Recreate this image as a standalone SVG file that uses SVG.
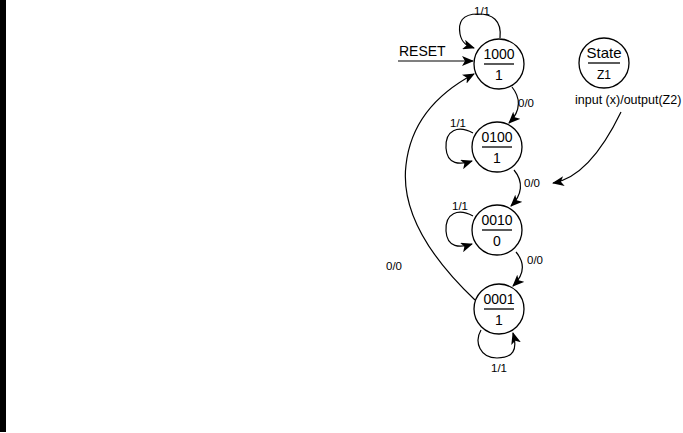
<svg xmlns="http://www.w3.org/2000/svg" width="683" height="433" viewBox="0 0 683 433">
<defs>
<marker id="ah" viewBox="0 0 12 10" refX="11" refY="5" markerWidth="12" markerHeight="10" markerUnits="userSpaceOnUse" orient="auto">
<path d="M0,0 L12,5 L0,10 L3,5 z" fill="#000"/>
</marker>
<style>
.st{fill:#fff;stroke:#000;stroke-width:1.3}
.bar{stroke:#000;stroke-width:1.3}
.nt{font-family:"Liberation Sans",Arial,sans-serif;font-size:14px;text-anchor:middle;fill:#000}
.lb{font-family:"Liberation Sans",Arial,sans-serif;font-size:11.5px;fill:#000}
.ed{fill:none;stroke:#000;stroke-width:1.2;marker-end:url(#ah)}
</style>
</defs>
<rect width="683" height="433" fill="#fff"/>
<rect x="0" y="0" width="6" height="432" fill="#000"/>
<g id="edges">
<path class="ed" d="M398,61 L473,61"/>
<path class="ed" d="M500,38 C502,20 492,14 478,14 C462,14 458,22 460,34 C462,44 468,46 474,48"/>
<path class="ed" d="M512,87 C520,97 522,110 509,123"/>
<path class="ed" d="M473,133 C458,125 445,130 446,148 C447,165 460,165 472,161"/>
<path class="ed" d="M514,170 C524,182 522,195 511,206"/>
<path class="ed" d="M473,216 C458,208 445,213 446,231 C447,248 460,248 472,244"/>
<path class="ed" d="M516,252 C526,264 524,275 513,286"/>
<path class="ed" d="M481,330 C474,342 480,358 497,358 C513,358 518,350 513,333"/>
<path class="ed" d="M475,300 C435,262 400,215 406,165 C411,120 440,92 474,74"/>
<path class="ed" d="M621,112 C605,145 583,178 553,183"/>
</g>
<g class="lb">
<text x="474" y="15">1/1</text>
<text x="518" y="107">0/0</text>
<text x="450" y="127">1/1</text>
<text x="524" y="187">0/0</text>
<text x="452" y="210">1/1</text>
<text x="527" y="264">0/0</text>
<text x="386" y="270">0/0</text>
<text x="491" y="372">1/1</text>
<text x="575" y="104" style="font-size:12.5px">input (x)/output(Z2)</text>
</g>
<g id="reset">
<text x="399" y="56" style="font-family:'Liberation Sans',Arial,sans-serif;font-size:14px">RESET</text>
</g>
<g id="n1000">
<circle class="st" cx="499" cy="64" r="25"/>
<line class="bar" x1="484" y1="64" x2="514" y2="64"/>
<text class="nt" x="499" y="59">1000</text>
<text class="nt" x="499" y="80">1</text>
</g>
<g id="n0100">
<circle class="st" cx="497" cy="147" r="25"/>
<line class="bar" x1="482" y1="147" x2="512" y2="147"/>
<text class="nt" x="497" y="142">0100</text>
<text class="nt" x="497" y="163">1</text>
</g>
<g id="n0010">
<circle class="st" cx="497" cy="230" r="25"/>
<line class="bar" x1="482" y1="230" x2="512" y2="230"/>
<text class="nt" x="497" y="225">0010</text>
<text class="nt" x="497" y="246">0</text>
</g>
<g id="n0001">
<circle class="st" cx="499" cy="309" r="25"/>
<line class="bar" x1="484" y1="309" x2="514" y2="309"/>
<text class="nt" x="499" y="304">0001</text>
<text class="nt" x="499" y="325">1</text>
</g>
<g id="legend">
<circle class="st" cx="604" cy="63" r="25"/>
<line class="bar" x1="588" y1="63" x2="620" y2="63"/>
<text class="nt" x="604" y="58" style="font-size:15px">State</text>
<text class="nt" x="604" y="79" style="font-size:12px">Z1</text>
</g>
</svg>
